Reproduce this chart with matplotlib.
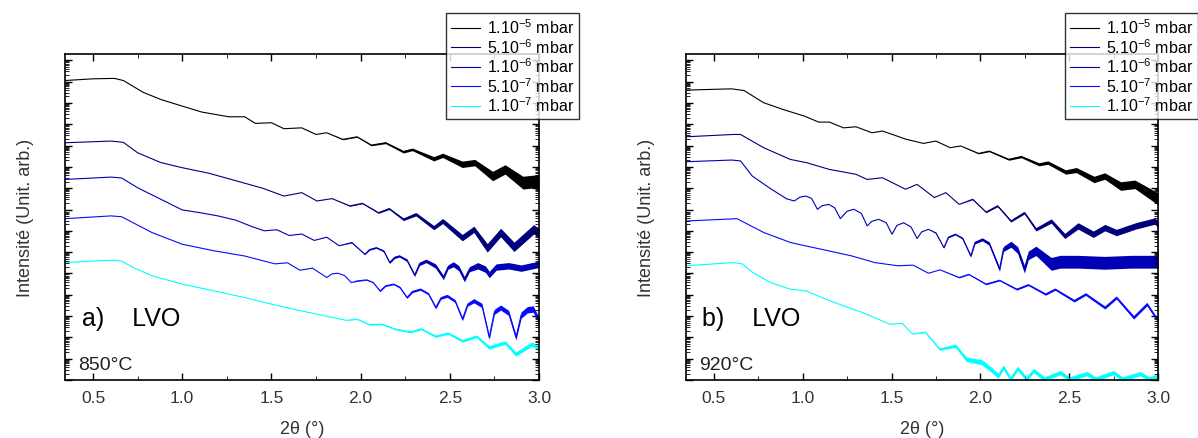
import numpy as np
import matplotlib.pyplot as plt
from matplotlib.ticker import LogLocator, MultipleLocator, NullFormatter

plt.rcParams['font.family'] = ['Liberation Sans', 'DejaVu Sans']
plt.rcParams['mathtext.fontset'] = 'custom'
plt.rcParams['mathtext.rm'] = 'Liberation Sans'

labels = [r'1.10$^{-5}$ mbar', r'5.10$^{-6}$ mbar', r'1.10$^{-6}$ mbar',
          r'5.10$^{-7}$ mbar', r'1.10$^{-7}$ mbar']
colors = ['#000000', '#00007a', '#0000b4', '#0a0aff', '#00ffff']

# panel a) 850°C -- 2theta (deg), log10(intensity) incl. stacking offset, noise half width (decades)
a_x1 = [0.343, 0.50, 0.62, 0.67, 0.72, 0.78, 0.88, 1.00, 1.11, 1.26, 1.35, 1.41, 1.50, 1.57, 1.67, 1.75,
        1.81, 1.90, 1.98, 2.06, 2.14, 2.24, 2.29, 2.41, 2.46, 2.57, 2.64, 2.74, 2.81, 2.91, 3.0]
a_y1 = [14.05, 14.13, 14.15, 14.05, 13.80, 13.50, 13.16, 12.85, 12.57, 12.35, 12.35, 12.04, 12.07, 11.79, 11.83, 11.52,
        11.60, 11.29, 11.41, 11.02, 11.13, 10.71, 10.82, 10.38, 10.54, 10.12, 10.20, 9.57, 9.88, 9.26, 9.34]
a_n1 = [0, 0, 0, 0, 0, 0, 0, 0, 0, 0, 0, 0, 0, 0, 0, 0,
        0, 0.02, 0.02, 0.03, 0.04, 0.06, 0.06, 0.1, 0.1, 0.15, 0.15, 0.22, 0.22, 0.3, 0.3]

a_x2 = [0.343, 0.60, 0.67, 0.75, 0.88, 1.00, 1.15, 1.30, 1.45, 1.57, 1.67, 1.755, 1.84, 1.94,
        2.01, 2.10, 2.16, 2.24, 2.31, 2.41, 2.46, 2.57, 2.635, 2.71, 2.785, 2.86, 2.97, 3.0]
a_y2 = [11.13, 11.21, 11.15, 10.66, 10.20, 9.96, 9.70, 9.35, 9.0, 8.63, 8.79, 8.40, 8.51, 8.17,
        8.29, 7.85, 8.04, 7.54, 7.78, 7.15, 7.46, 6.68, 7.07, 6.20, 6.92, 6.25, 7.07, 6.9]
a_n2 = [0, 0, 0, 0, 0, 0, 0, 0, 0, 0, 0, 0, 0, 0.02,
        0.02, 0.03, 0.04, 0.06, 0.08, 0.1, 0.12, 0.15, 0.15, 0.2, 0.2, 0.22, 0.22, 0.22]

a_x3 = [0.343, 0.60, 0.66, 0.75, 0.88, 1.00, 1.10, 1.20, 1.30, 1.39, 1.46, 1.53, 1.60, 1.67, 1.74,
        1.81, 1.88, 1.95, 2.024, 2.05, 2.088, 2.13, 2.163, 2.19, 2.217, 2.26, 2.303, 2.33, 2.367,
        2.42, 2.464, 2.49, 2.52, 2.55, 2.582, 2.61, 2.657, 2.70, 2.721, 2.76, 2.83, 2.90, 3.0]
a_y3 = [9.41, 9.52, 9.48, 9.02, 8.48, 7.98, 7.85, 7.70, 7.50, 7.20, 7.0, 7.05, 6.78, 6.85, 6.55,
        6.70, 6.30, 6.45, 5.90, 6.12, 6.21, 6.05, 5.51, 5.75, 5.82, 5.62, 4.92, 5.45, 5.59,
        5.35, 4.81, 5.30, 5.43, 5.25, 4.73, 5.20, 5.36, 5.20, 4.95, 5.30, 5.36, 5.25, 5.43]
a_n3 = [0, 0, 0, 0, 0, 0, 0, 0, 0, 0, 0, 0, 0, 0, 0,
        0, 0, 0.02, 0.02, 0.03, 0.03, 0.04, 0.04, 0.05, 0.05, 0.06, 0.06, 0.08, 0.08,
        0.1, 0.1, 0.1, 0.12, 0.12, 0.12, 0.12, 0.15, 0.15, 0.15, 0.15, 0.15, 0.15, 0.15]

a_x4 = [0.343, 0.60, 0.66, 0.72, 0.83, 1.00, 1.18, 1.35, 1.45, 1.52, 1.59, 1.66, 1.73, 1.81, 1.84,
        1.873, 1.91, 1.948, 1.98, 2.034, 2.07, 2.109, 2.14, 2.185, 2.22, 2.26, 2.29, 2.335, 2.38,
        2.421, 2.45, 2.485, 2.53, 2.571, 2.60, 2.635, 2.68, 2.721, 2.75, 2.785, 2.83, 2.871, 2.90,
        2.935, 2.968, 3.0]
a_y4 = [7.57, 7.70, 7.66, 7.40, 6.92, 6.37, 6.06, 5.82, 5.60, 5.45, 5.50, 5.15, 5.25, 4.81, 4.98,
        5.01, 4.90, 4.57, 4.65, 4.70, 4.58, 4.18, 4.42, 4.50, 4.35, 3.87, 4.15, 4.26, 4.05,
        3.40, 3.85, 3.95, 3.70, 2.86, 3.55, 3.72, 3.50, 2.0, 3.20, 3.40, 3.15, 2.0, 3.05,
        3.30, 3.33, 2.78]
a_n4 = [0, 0, 0, 0, 0, 0, 0, 0, 0, 0, 0, 0, 0, 0, 0,
        0, 0, 0, 0.02, 0.02, 0.02, 0.03, 0.03, 0.03, 0.04, 0.04, 0.05, 0.05, 0.05,
        0.06, 0.06, 0.07, 0.07, 0.08, 0.08, 0.1, 0.1, 0.1, 0.12, 0.12, 0.12, 0.12, 0.15,
        0.15, 0.15, 0.15]

a_x5 = [0.343, 0.60, 0.66, 0.72, 0.83, 1.00, 1.18, 1.35, 1.50, 1.67, 1.84, 1.92, 1.98, 2.05,
        2.12, 2.19, 2.28, 2.34, 2.42, 2.49, 2.57, 2.65, 2.72, 2.81, 2.87, 2.96, 3.0]
a_y5 = [5.51, 5.62, 5.58, 5.30, 4.89, 4.50, 4.18, 3.87, 3.56, 3.24, 2.94, 2.80, 2.86, 2.60,
        2.62, 2.40, 2.25, 2.40, 2.05, 2.20, 1.84, 2.05, 1.53, 1.76, 1.22, 1.69, 1.50]
a_n5 = [0, 0, 0, 0, 0, 0, 0, 0, 0, 0, 0, 0, 0.02, 0.02,
        0.03, 0.03, 0.04, 0.04, 0.05, 0.05, 0.06, 0.06, 0.08, 0.08, 0.1, 0.1, 0.1]

# panel b) 920°C
b_x1 = [0.342, 0.60, 0.67, 0.78, 0.89, 1.01, 1.09, 1.15, 1.23, 1.30, 1.39, 1.45, 1.58, 1.68, 1.75,
        1.83, 1.89, 1.99, 2.05, 2.16, 2.23, 2.33, 2.38, 2.48, 2.54, 2.64, 2.70, 2.79, 2.87, 3.0]
b_y1 = [13.60, 13.66, 13.58, 13.01, 12.69, 12.38, 12.10, 12.10, 11.83, 11.88, 11.60, 11.68, 11.30, 11.10, 11.21,
        10.90, 10.98, 10.63, 10.74, 10.35, 10.48, 10.12, 10.20, 9.76, 9.85, 9.41, 9.57, 9.10, 9.18, 8.5]
b_n1 = [0, 0, 0, 0, 0, 0, 0, 0, 0, 0, 0, 0, 0, 0, 0,
        0, 0, 0.02, 0.03, 0.04, 0.05, 0.07, 0.08, 0.1, 0.12, 0.15, 0.15, 0.2, 0.2, 0.28]

b_x2 = [0.342, 0.61, 0.65, 0.78, 0.93, 1.02, 1.15, 1.23, 1.30, 1.363, 1.449, 1.579, 1.644, 1.741, 1.806,
        1.881, 1.957, 2.032, 2.097, 2.172, 2.248, 2.313, 2.399, 2.475, 2.55, 2.636, 2.701, 2.766, 2.874, 2.982, 3.0]
b_y2 = [11.41, 11.52, 11.52, 10.90, 10.35, 10.20, 9.88, 9.76, 9.65, 9.41, 9.49, 8.95, 9.18, 8.56, 8.79,
        8.24, 8.48, 7.88, 8.17, 7.46, 7.85, 7.07, 7.46, 6.76, 7.23, 6.84, 7.15, 6.92, 7.23, 7.46, 7.31]
b_n2 = [0, 0, 0, 0, 0, 0, 0, 0, 0, 0, 0, 0, 0, 0, 0,
        0, 0.02, 0.03, 0.04, 0.05, 0.06, 0.08, 0.1, 0.12, 0.15, 0.15, 0.15, 0.15, 0.15, 0.15, 0.15]

b_x3 = [0.342, 0.60, 0.65, 0.716, 0.824, 0.91, 0.953, 0.985, 1.018, 1.05, 1.083, 1.11, 1.147, 1.18,
        1.212, 1.25, 1.288, 1.33, 1.363, 1.39, 1.428, 1.47, 1.503, 1.53, 1.568, 1.61, 1.644, 1.67,
        1.708, 1.75, 1.795, 1.82, 1.859, 1.90, 1.946, 1.97, 2.011, 2.05, 2.108, 2.13, 2.172, 2.21,
        2.248, 2.27, 2.313, 2.35, 2.399, 2.45, 2.55, 2.70, 2.85, 3.0]
b_y3 = [10.24, 10.32, 10.28, 9.57, 8.95, 8.50, 8.40, 8.58, 8.63, 8.52, 8.01, 8.18, 8.24, 8.08,
        7.57, 7.92, 8.01, 7.82, 7.23, 7.45, 7.54, 7.38, 6.84, 7.25, 7.38, 7.18, 6.64, 6.95,
        7.07, 6.90, 6.21, 6.70, 6.84, 6.65, 5.82, 6.45, 6.60, 6.40, 5.20, 6.15, 6.37, 6.10,
        5.20, 5.85, 6.06, 5.80, 5.45, 5.55, 5.55, 5.50, 5.55, 5.55]
b_n3 = [0, 0, 0, 0, 0, 0, 0, 0, 0, 0, 0, 0, 0, 0,
        0, 0, 0, 0, 0, 0, 0, 0, 0, 0, 0, 0, 0, 0,
        0, 0.02, 0.02, 0.03, 0.03, 0.04, 0.05, 0.06, 0.07, 0.08, 0.1, 0.12, 0.14, 0.16,
        0.18, 0.2, 0.22, 0.25, 0.3, 0.3, 0.3, 0.3, 0.3, 0.3]

b_x4 = [0.342, 0.63, 0.781, 0.932, 1.018, 1.147, 1.277, 1.406, 1.536, 1.622, 1.708, 1.773, 1.881, 1.935, 2.032,
        2.108, 2.205, 2.27, 2.367, 2.421, 2.528, 2.593, 2.701, 2.766, 2.863, 2.938, 3.0]
b_y4 = [7.46, 7.57, 6.92, 6.45, 6.29, 6.06, 5.82, 5.51, 5.36, 5.39, 5.01, 5.17, 4.81, 4.96, 4.50,
        4.68, 4.26, 4.47, 4.03, 4.26, 3.72, 4.03, 3.40, 3.87, 2.94, 3.56, 2.78]
b_n4 = [0, 0, 0, 0, 0, 0, 0, 0, 0, 0, 0, 0, 0.02, 0.02, 0.03,
        0.03, 0.04, 0.04, 0.05, 0.05, 0.06, 0.06, 0.07, 0.07, 0.08, 0.08, 0.08]

b_x5 = [0.342, 0.61, 0.66, 0.72, 0.82, 0.93, 1.02, 1.13, 1.23, 1.36, 1.49, 1.56, 1.62, 1.69, 1.77,
        1.86, 1.92, 2.01, 2.06, 2.10, 2.13, 2.17, 2.21, 2.26, 2.30, 2.36, 2.45, 2.50, 2.60, 2.65,
        2.75, 2.80, 2.90, 2.95, 3.0]
b_y5 = [5.36, 5.51, 5.45, 5.04, 4.57, 4.26, 4.18, 3.79, 3.48, 3.09, 2.62, 2.66, 2.15, 2.25, 1.45,
        1.61, 0.98, 0.83, 0.50, 0.20, 0.60, 0.05, 0.55, 0.05, 0.45, 0.05, 0.35, 0.05, 0.30, 0.05,
        0.35, 0.05, 0.30, 0.05, 0.20]
b_n5 = [0, 0, 0, 0, 0, 0, 0, 0, 0, 0, 0, 0, 0, 0.03, 0.05,
        0.08, 0.1, 0.12, 0.12, 0.12, 0.1, 0.1, 0.1, 0.1, 0.1, 0.1, 0.1, 0.1, 0.1, 0.1,
        0.1, 0.1, 0.1, 0.1, 0.1]

panels = [
    dict(xs=[a_x1, a_x2, a_x3, a_x4, a_x5], ys=[a_y1, a_y2, a_y3, a_y4, a_y5],
         ns=[a_n1, a_n2, a_n3, a_n4, a_n5], tag='a)    LVO', temp='850°C'),
    dict(xs=[b_x1, b_x2, b_x3, b_x4, b_x5], ys=[b_y1, b_y2, b_y3, b_y4, b_y5],
         ns=[b_n1, b_n2, b_n3, b_n4, b_n5], tag='b)    LVO', temp='920°C'),
]

fig = plt.figure(figsize=(11.98, 4.39), dpi=100)
ax_pos = [[0.0543, 0.132, 0.3956, 0.743], [0.5726, 0.132, 0.394, 0.743]]
leg_pos = [(446/1198, 1-14/439), (1065/1198, 1-14/439)]

for p, pos, lp in zip(panels, ax_pos, leg_pos):
    ax = fig.add_axes(pos)
    for x, y, n, c, lab in zip(p['xs'], p['ys'], p['ns'], colors, labels):
        x = np.array(x)
        y = np.array(y)
        n = np.array(n)
        ax.fill_between(x, 10**(y-n), 10**(y+n), color=c, lw=0)
        ax.plot(x, 10**y, color=c, lw=0.8, label=lab)
    ax.set_yscale('log')
    ax.set_xlim(0.343, 3.0)
    ax.set_ylim(1, 10**15.3)
    ax.xaxis.set_major_locator(MultipleLocator(0.5))
    ax.xaxis.set_minor_locator(MultipleLocator(0.25))
    ax.yaxis.set_major_locator(LogLocator(base=10, numticks=30))
    ax.yaxis.set_minor_locator(LogLocator(base=10, subs=np.arange(2, 10), numticks=30))
    ax.yaxis.set_major_formatter(NullFormatter())
    ax.yaxis.set_minor_formatter(NullFormatter())
    ax.tick_params(which='both', direction='in', top=True, right=True, colors='black',
                   labelcolor='#333333', labelsize=12.5)
    ax.tick_params(which='major', length=5, width=1, pad=7)
    ax.tick_params(which='minor', length=3, width=0.6)
    ax.xaxis.set_major_formatter(plt.FuncFormatter(lambda v, _: f'{v:.1f}'))
    for s in ax.spines.values():
        s.set_linewidth(1.2)
    ax.set_xlabel('2θ (°)', fontsize=13, color='#333333', labelpad=11)
    ax.set_ylabel('Intensité (Unit. arb.)', fontsize=13, color='#333333', labelpad=15)
    ax.text(0.035, 0.17, p['tag'], transform=ax.transAxes, fontsize=18)
    ax.text(0.027, 0.035, p['temp'], transform=ax.transAxes, fontsize=14, color='#222222')
    leg = ax.legend(loc='upper left', bbox_to_anchor=lp, bbox_transform=fig.transFigure,
                    fontsize=11.5, frameon=True, fancybox=False, edgecolor='black',
                    borderaxespad=0, handlelength=1.8, labelspacing=0.05, borderpad=0.3,
                    handletextpad=0.45)
    leg.get_frame().set_linewidth(1.0)

fig.savefig('out.png', dpi=100)
